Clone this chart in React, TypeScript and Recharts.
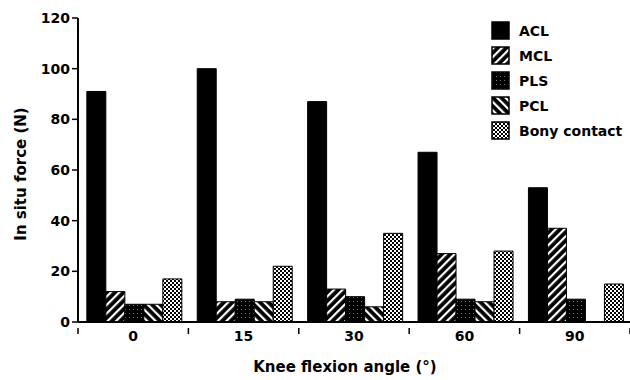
import React from "react";
import { BarChart, Bar, XAxis, YAxis } from "recharts";

const angles = ["0", "15", "30", "60", "90"];
const acl = [91, 100, 87, 67, 53];
const mcl = [12, 8, 13, 27, 37];
const pls = [7, 9, 10, 9, 9];
const pcl = [7, 8, 6, 8, 0];
const bony = [17, 22, 35, 28, 15];
const yTicks = [0, 20, 40, 60, 80, 100, 120];

const seriesNames = ["ACL", "MCL", "PLS", "PCL", "Bony contact"];
const seriesKeys = ["acl", "mcl", "pls", "pcl", "bony"];

const data = angles.map((a, i) => ({
  angle: a,
  acl: acl[i],
  mcl: mcl[i],
  pls: pls[i],
  pcl: pcl[i],
  bony: bony[i],
}));

const FONT = "'DejaVu Sans', sans-serif";

const fills: Record<string, string> = {
  acl: "#000",
  mcl: "url(#pMcl)",
  pls: "url(#pPls)",
  pcl: "url(#pPcl)",
  bony: "url(#pBony)",
};

function Patterns() {
  return (
    <defs>
      <pattern id="pMcl" width="6" height="6" patternUnits="userSpaceOnUse" patternTransform="rotate(45)">
        <rect width="6" height="6" fill="#000" />
        <rect x="2" width="2.2" height="6" fill="#fff" />
      </pattern>
      <pattern id="pPcl" width="6" height="6" patternUnits="userSpaceOnUse" patternTransform="rotate(-45)">
        <rect width="6" height="6" fill="#000" />
        <rect x="2" width="2.2" height="6" fill="#fff" />
      </pattern>
      <pattern id="pPls" width="4" height="4" patternUnits="userSpaceOnUse">
        <rect width="4" height="4" fill="#000" />
        <rect x="1" y="1" width="1" height="1" fill="#777" />
      </pattern>
      <pattern id="pBony" width="4" height="4" patternUnits="userSpaceOnUse">
        <rect width="4" height="4" fill="#000" />
        <rect x="0" y="0" width="2" height="2" fill="#fff" />
        <rect x="2" y="2" width="2" height="2" fill="#fff" />
      </pattern>
    </defs>
  );
}

function LegendBox() {
  return (
    <div
      style={{
        position: "absolute",
        left: 491,
        top: 18,
        width: 139,
        whiteSpace: "nowrap",
        fontFamily: FONT,
        fontWeight: "bold",
        fontSize: 14,
        color: "#000",
      }}
    >
      {seriesKeys.map((k, i) => (
        <div key={k} style={{ display: "flex", alignItems: "center", height: 25 }}>
          <svg width={19} height={19} style={{ marginRight: 9, flexShrink: 0 }}>
            <rect x={1} y={1} width={17} height={17} fill={fills[k]} stroke="#000" strokeWidth={1.5} />
          </svg>
          <span>{seriesNames[i]}</span>
        </div>
      ))}
    </div>
  );
}

function YLabel(props: any) {
  const { x, y, height } = props.viewBox;
  const cx = x + 21;
  const cy = y + height / 2 + 4;
  return (
    <text
      x={cx}
      y={cy}
      transform={`rotate(-90 ${cx} ${cy})`}
      textAnchor="middle"
      dominantBaseline="central"
      fontFamily={FONT}
      fontWeight="bold"
      fontSize={15}
      fill="#000"
    >
      In situ force (N)
    </text>
  );
}

function XLabel(props: any) {
  const { x, y, width } = props.viewBox;
  return (
    <text
      x={x + width / 2 - 9}
      y={y + 50}
      textAnchor="middle"
      fontFamily={FONT}
      fontWeight="bold"
      fontSize={15}
      fill="#000"
    >
      Knee flexion angle (°)
    </text>
  );
}

// category label plus tick marks on the band edges, like the original figure
function AngleTick(props: any) {
  const { x, y, payload, index } = props;
  const half = payload.offset || 0;
  const axisY = y - 3;
  const last = index === angles.length - 1;
  return (
    <g>
      <line x1={x - half} x2={x - half} y1={axisY} y2={axisY + 6} stroke="#000" strokeWidth={1.5} />
      {last && <line x1={x + half} x2={x + half} y1={axisY} y2={axisY + 6} stroke="#000" strokeWidth={1.5} />}
      <text
        x={x}
        y={y}
        dy="0.71em"
        textAnchor="middle"
        fontFamily={FONT}
        fontWeight="bold"
        fontSize={14}
        fill="#000"
      >
        {payload.value}
      </text>
    </g>
  );
}

const tickStyle = { fontFamily: FONT, fontWeight: "bold" as const, fontSize: 14, fill: "#000" };

export default function App() {
  return (
    <div style={{ position: "absolute", left: 0, top: 0, width: 630, height: 380, background: "#fff" }}>
      <BarChart
        width={630}
        height={380}
        data={data}
        margin={{ top: 18, right: 0, bottom: 0, left: 0 }}
        barCategoryGap="8%"
        barGap={0}
      >
        <Patterns />
        <XAxis
          dataKey="angle"
          tickLine={false}
          axisLine={{ stroke: "#000", strokeWidth: 2 }}
          tick={<AngleTick />}
          tickMargin={3}
          height={58}
          interval={0}
          label={<XLabel />}
        />
        <YAxis
          domain={[0, 120]}
          ticks={yTicks}
          width={78}
          axisLine={{ stroke: "#000", strokeWidth: 2 }}
          tickLine={{ stroke: "#000", strokeWidth: 1.5 }}
          tickSize={6}
          tick={tickStyle}
          label={<YLabel />}
        />
        {seriesKeys.map((k, i) => (
          <Bar
            key={k}
            dataKey={k}
            name={seriesNames[i]}
            fill={fills[k]}
            stroke="#000"
            strokeWidth={1}
            isAnimationActive={false}
          />
        ))}
      </BarChart>
      <LegendBox />
    </div>
  );
}
